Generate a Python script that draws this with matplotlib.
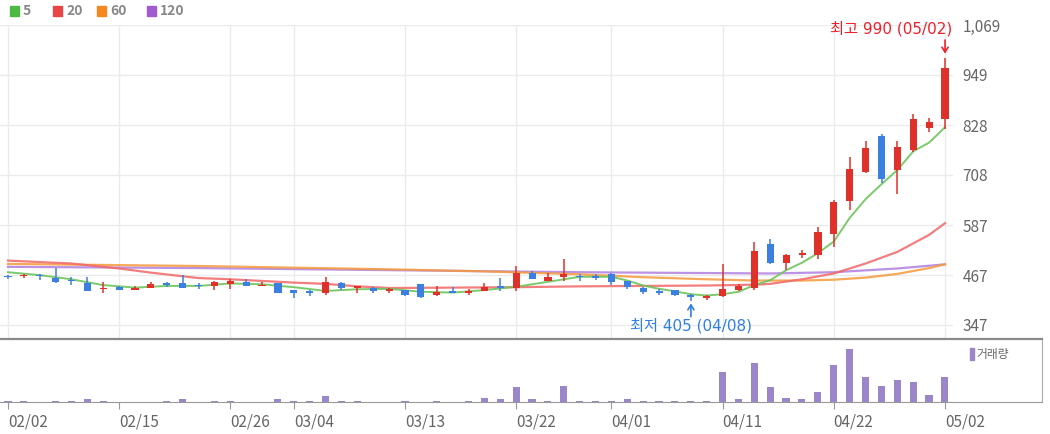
import matplotlib.pyplot as plt
from matplotlib.patches import Rectangle

plt.rcParams['font.family'] = ['Noto Sans CJK KR', 'DejaVu Sans']

# trading days (MM/DD)
dates = ['02/02', '02/05', '02/06', '02/07', '02/08', '02/13', '02/14', '02/15', '02/16', '02/19',
         '02/20', '02/21', '02/22', '02/23', '02/26', '02/27', '02/28', '02/29', '03/04', '03/05',
         '03/06', '03/07', '03/08', '03/11', '03/12', '03/13', '03/14', '03/15', '03/18', '03/19',
         '03/20', '03/21', '03/22', '03/25', '03/26', '03/27', '03/28', '03/29', '04/01', '04/02',
         '04/03', '04/04', '04/05', '04/08', '04/09', '04/11', '04/12', '04/15', '04/16', '04/17',
         '04/18', '04/19', '04/22', '04/23', '04/24', '04/25', '04/26', '04/29', '04/30', '05/02']
tick_dates = ['02/02', '02/15', '02/26', '03/04', '03/13', '03/22', '04/01', '04/11', '04/22', '05/02']

opens = [464, 464, 466, 461, 454, 449, 433, 439, 432, 437, 446, 449, 442, 440, 446, 451, 440, 447, 431, 430,
         423, 449, 437, 437, 429, 431, 445, 418, 427, 424, 430, 438, 437, 471, 454, 463, 464, 463, 470, 453,
         435, 427, 431, 416, 413, 417, 431, 435, 542, 497, 516, 516, 565, 645, 716, 803, 720, 768, 822, 843]
highs = [468, 470, 470, 483, 462, 463, 451, 440, 440, 451, 451, 467, 449, 452, 457, 457, 450, 448, 432, 431,
         463, 450, 439, 438, 436, 432, 446, 442, 438, 434, 449, 459, 489, 478, 472, 506, 469, 470, 471, 454,
         439, 433, 432, 421, 420, 493, 446, 547, 553, 517, 527, 582, 648, 751, 791, 806, 791, 856, 844, 990]
lows = [458, 459, 456, 447, 444, 428, 425, 431, 431, 436, 438, 436, 433, 431, 433, 440, 440, 424, 411, 417,
        419, 432, 425, 425, 424, 417, 413, 417, 424, 418, 429, 429, 430, 457, 453, 454, 452, 455, 443, 433,
        422, 418, 417, 405, 408, 415, 430, 431, 493, 479, 508, 505, 534, 624, 712, 688, 662, 764, 811, 819]
closes = [462, 467, 464, 450, 452, 429, 437, 432, 437, 445, 444, 437, 440, 450, 454, 441, 441, 425, 423, 423,
          450, 437, 438, 429, 431, 418, 414, 427, 425, 426, 438, 436, 473, 458, 463, 469, 462, 461, 450, 439,
          426, 425, 418, 414, 415, 434, 442, 525, 495, 516, 518, 571, 644, 722, 772, 698, 776, 842, 835, 965]
volumes = [1.3, 1.3, 0, 1.3, 1.3, 3, 1.3, 0, 0, 0, 1.3, 3, 0, 1.3, 1.3, 0, 0, 3, 1.3, 1.3,
           5.7, 1.3, 1.3, 0, 0, 1.3, 0, 1.3, 0, 1.3, 4.3, 3, 15, 3, 1.3, 16, 1.3, 1.3, 1.3, 3,
           1.3, 1.3, 1.3, 1.3, 1.3, 30, 3, 39, 15, 4.3, 3, 10, 37, 53, 25, 16, 22, 20, 7, 25]

# moving averages (day index, value)
ma5_idx = [0, 2, 4, 6, 8, 10, 12, 14, 16, 18, 20, 22, 24, 26, 28, 30, 32, 34, 36, 38, 39, 40, 41, 42,
           43, 44, 45, 46, 47, 48, 49, 50, 51, 52, 53, 54, 55, 56, 57, 58, 59]
ma5_val = [474, 467, 457, 443, 437, 441, 441, 447, 445, 438, 429, 433, 434, 427, 425, 431, 439, 451, 463, 463,
           454, 442, 434, 428, 421, 418, 421, 427, 443, 455, 479, 497, 520, 548, 605, 650, 686, 720, 765, 786, 823]
ma20_idx = [0, 4, 7, 9, 12, 14, 18, 20, 22, 24, 28, 32, 36, 40, 44, 47, 48, 50, 52, 54, 56, 58, 59]
ma20_val = [502, 495, 483, 473, 460, 457, 449, 446, 440, 436, 437, 438, 440, 441, 442, 444, 446, 457, 471, 495,
            523, 564, 592]
ma60_idx = [0, 12, 24, 30, 36, 40, 44, 47, 50, 52, 54, 56, 58, 59]
ma60_val = [494, 489, 481, 476, 469, 462, 457, 454, 454, 456, 461, 470, 484, 493]
ma120_idx = [0, 12, 24, 36, 44, 48, 52, 56, 59]
ma120_val = [487, 484, 479, 474, 472, 471, 474, 483, 493]

yticks = [347, 467, 587, 708, 828, 949, 1069]
ytick_labels = ['347', '467', '587', '708', '828', '949', '1,069']

up_color = '#e0302a'
down_color = '#3b7fe0'

fig = plt.figure(figsize=(10.5, 4.34), dpi=100)
ax = fig.add_axes([0, 0.2212, 0.9076, 0.7212])
axv = fig.add_axes([0, 0.0737, 0.9924, 0.1452])

x = list(range(len(dates)))
tick_pos = [dates.index(d) for d in tick_dates]

# moving averages
ax.plot(ma120_idx, ma120_val, color='#b07fe0', lw=1.6, alpha=0.85, zorder=2)
ax.plot(ma60_idx, ma60_val, color='#f59a3c', lw=1.6, alpha=0.85, zorder=2)
ax.plot(ma20_idx, ma20_val, color='#f06868', lw=1.6, alpha=0.85, zorder=2)
ax.plot(ma5_idx, ma5_val, color='#6cc55c', lw=1.4, alpha=0.9, zorder=2)

# candles
colors = [up_color if c >= o else down_color for o, c in zip(opens, closes)]
bottoms = [min(o, c) for o, c in zip(opens, closes)]
heights = [max(abs(c - o), 4) for o, c in zip(opens, closes)]
ax.vlines(x, lows, highs, colors=colors, lw=1.1, zorder=3)
ax.bar(x, heights, bottom=bottoms, width=0.45, color=colors, zorder=4)

ax.set_xlim(-0.5, 59.5)
ax.set_ylim(315.7, 1069)
ax.set_xticks(tick_pos)
ax.set_yticks(yticks)
ax.set_yticklabels(ytick_labels)
ax.yaxis.tick_right()
ax.tick_params(axis='y', length=0, pad=7, labelsize=11, labelcolor='#666666')
ax.tick_params(axis='x', length=0, labelbottom=False)
ax.grid(True, color='#ebebeb', lw=1)
ax.set_axisbelow(True)
for s in ax.spines.values():
    s.set_visible(False)

# high / low notes
note_font = ['DejaVu Sans', 'Noto Sans CJK KR']
arrow = '->,head_length=0.35,head_width=0.22'
hi = highs.index(max(highs))
lo = lows.index(min(lows))
ax.text(59.45, 1060, '최고 %d (%s)' % (highs[hi], dates[hi]), color='#f0202a', fontsize=11,
        family=note_font, ha='right', va='center', clip_on=False)
ax.annotate('', xy=(hi, 1000), xytext=(hi, 1033),
            arrowprops=dict(arrowstyle=arrow, color='#f0202a', lw=1.2, shrinkA=0, shrinkB=0))
ax.text(lo, 345, '최저 %d (%s)' % (lows[lo], dates[lo]), color='#2f7ee6', fontsize=11,
        family=note_font, ha='center', va='center')
ax.annotate('', xy=(lo, 399), xytext=(lo, 367),
            arrowprops=dict(arrowstyle=arrow, color='#2f7ee6', lw=1.2, shrinkA=0, shrinkB=0))

# volume
axv.bar(x, volumes, width=0.45, color='#9a86c8')
axv.set_xlim(-0.5, 65.12)
axv.set_ylim(0, 63)
axv.set_yticks([])
axv.set_xticks(tick_pos)
axv.set_xticklabels(tick_dates, ha='left')
axv.tick_params(axis='x', length=5, color='#999999', labelsize=11, labelcolor='#666666', pad=3)
axv.spines['left'].set_visible(False)
axv.spines['top'].set_color('#8a8a8a')
axv.spines['top'].set_linewidth(1.6)
axv.spines['bottom'].set_color('#999999')
axv.spines['right'].set_color('#aaaaaa')
axv.add_patch(Rectangle((0.9305, 0.66), 0.004, 0.2, transform=axv.transAxes, color='#9a86c8'))
axv.text(0.937, 0.76, '거래량', transform=axv.transAxes, fontsize=8.5, color='#666666', va='center')

# MA legend
legend = [('5', '#4cb944', 10), ('20', '#e84545', 53), ('60', '#f5871f', 97), ('120', '#a15bd1', 147)]
for label, col, px in legend:
    fig.patches.append(Rectangle((px / 1050, 1 - 16 / 434), 9 / 1050, 10 / 434,
                                 transform=fig.transFigure, color=col))
    fig.text((px + 13) / 1050, 1 - 11 / 434, label, color='#888888', fontsize=10,
             fontweight='bold', va='center')

fig.savefig('out.png', dpi=100)
